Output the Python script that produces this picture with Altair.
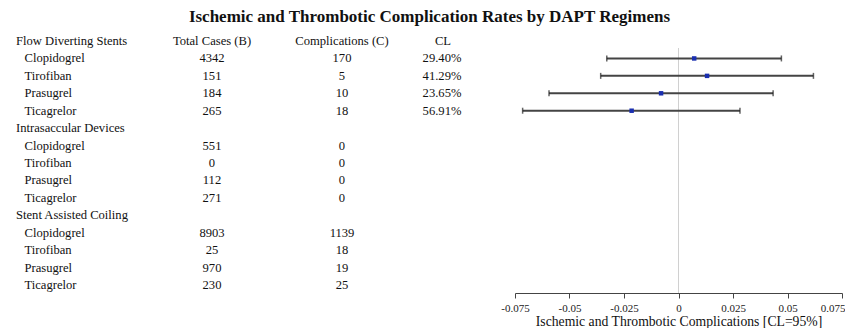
import altair as alt
import pandas as pd

# ---- data ----
groups = ["Flow Diverting Stents", "Intrasaccular Devices", "Stent Assisted Coiling"]
drugs = ["Clopidogrel", "Tirofiban", "Prasugrel", "Ticagrelor"]
total_cases = [4342, 151, 184, 265, 551, 0, 112, 271, 8903, 25, 970, 230]
complications = [170, 5, 10, 18, 0, 0, 0, 0, 1139, 18, 19, 25]
cl_labels = ["29.40%", "41.29%", "23.65%", "56.91%"]
estimate = [0.0072, 0.0131, -0.0080, -0.0215]
lower = [-0.0329, -0.0357, -0.0594, -0.0715]
upper = [0.0472, 0.0619, 0.0434, 0.0282]
col_headers = ["Total Cases (B)", "Complications (C)", "CL"]
x_ticks = [-0.075, -0.05, -0.025, 0, 0.025, 0.05, 0.075]

FONT = "Liberation Serif"
FS = 12.6

# build the table rows
group_rows, drug_rows = [], []
r = 0
k = 0
for g in groups:
    group_rows.append({"row": r, "label": g})
    r += 1
    for d in drugs:
        drug_rows.append({"row": r, "label": d, "total": str(total_cases[k]),
                          "comp": str(complications[k])})
        k += 1
        r += 1
group_df = pd.DataFrame(group_rows)
drug_df = pd.DataFrame(drug_rows)
cl_df = pd.DataFrame({"row": drug_df["row"][:4].tolist(), "cl": cl_labels})
hdr_df = pd.DataFrame({"row": [0, 0, 0], "label": col_headers})
ci_df = pd.DataFrame({"row": drug_df["row"][:4].tolist(), "est": estimate,
                      "lo": lower, "hi": upper})

H = 260
yscale = alt.Scale(domain=[-0.46, 14.46], reverse=True, nice=False, zero=False)
def Y(field="row"):
    return alt.Y(f"{field}:Q", scale=yscale, axis=None)

def txt(df, field, xpix, align="left"):
    return alt.Chart(df).mark_text(font=FONT, fontSize=FS, align=align,
                                   baseline="middle", color="#111").encode(
        x=alt.value(xpix), y=Y(), text=alt.Text(f"{field}:N"))

left = alt.layer(
    txt(group_df, "label", 8),
    txt(drug_df, "label", 16.5),
    txt(drug_df, "total", 204, "center"),
    txt(drug_df, "comp", 334, "center"),
    txt(cl_df, "cl", 434, "center"),
    txt(hdr_df.iloc[[0]], "label", 204, "center"),
    txt(hdr_df.iloc[[1]], "label", 334, "center"),
    txt(hdr_df.iloc[[2]], "label", 435, "center"),
).properties(width=507, height=H)

xscale = alt.Scale(domain=[-0.075, 0.075], nice=False, zero=False)
xaxis = alt.Axis(values=x_ticks, labelExpr="'' + datum.value", grid=False,
                 domainColor="#444", tickColor="#444", tickSize=5,
                 labelFont=FONT, labelFontSize=11, labelColor="#222",
                 labelPadding=4, labelFlush=False,
                 labelAlign={"condition": {"test": "datum.value > 0.07", "value": "right"}, "value": "center"},
                 labelOffset={"condition": {"test": "datum.value > 0.07", "value": 3}, "value": 0},
                 title="Ischemic and Thrombotic Complications  [CL=95%]",
                 titleFont=FONT, titleFontSize=13.7, titleFontWeight="normal",
                 titleColor="#111", titlePadding=1)

zero_line = alt.Chart(pd.DataFrame({"x": [0.0], "y": [0.4]})).mark_rule(color="#d0d0d0", strokeWidth=1).encode(
    x=alt.X("x:Q", scale=xscale, axis=xaxis),
    y=Y("y"),
    y2=alt.value(H))

bars = alt.Chart(ci_df).mark_rule(color="#444", strokeWidth=2).encode(
    x=alt.X("lo:Q", scale=xscale), x2="hi:Q", y=Y())
cap_lo = alt.Chart(ci_df).mark_tick(orient="vertical", size=6, thickness=1.5, color="#222").encode(
    x=alt.X("lo:Q", scale=xscale), y=Y())
cap_hi = alt.Chart(ci_df).mark_tick(orient="vertical", size=6, thickness=1.5, color="#222").encode(
    x=alt.X("hi:Q", scale=xscale), y=Y())
pts = alt.Chart(ci_df).mark_square(size=20, color="#1a2fb0", opacity=1).encode(
    x=alt.X("est:Q", scale=xscale), y=Y())

right = alt.layer(zero_line, bars, cap_lo, cap_hi, pts).properties(width=327, height=H)

chart = alt.hconcat(left, right, spacing=0, bounds="flush").properties(
    title=alt.TitleParams("Ischemic and Thrombotic Complication Rates by DAPT Regimens",
                          font=FONT, fontSize=17, fontWeight="bold", color="#111",
                          anchor="middle", offset=7, dx=3),
    padding={"left": 0, "top": 0, "right": 0, "bottom": 0}
).configure_view(stroke=None)

chart.save("out.html", embed_options={"renderer": "svg", "actions": False})
